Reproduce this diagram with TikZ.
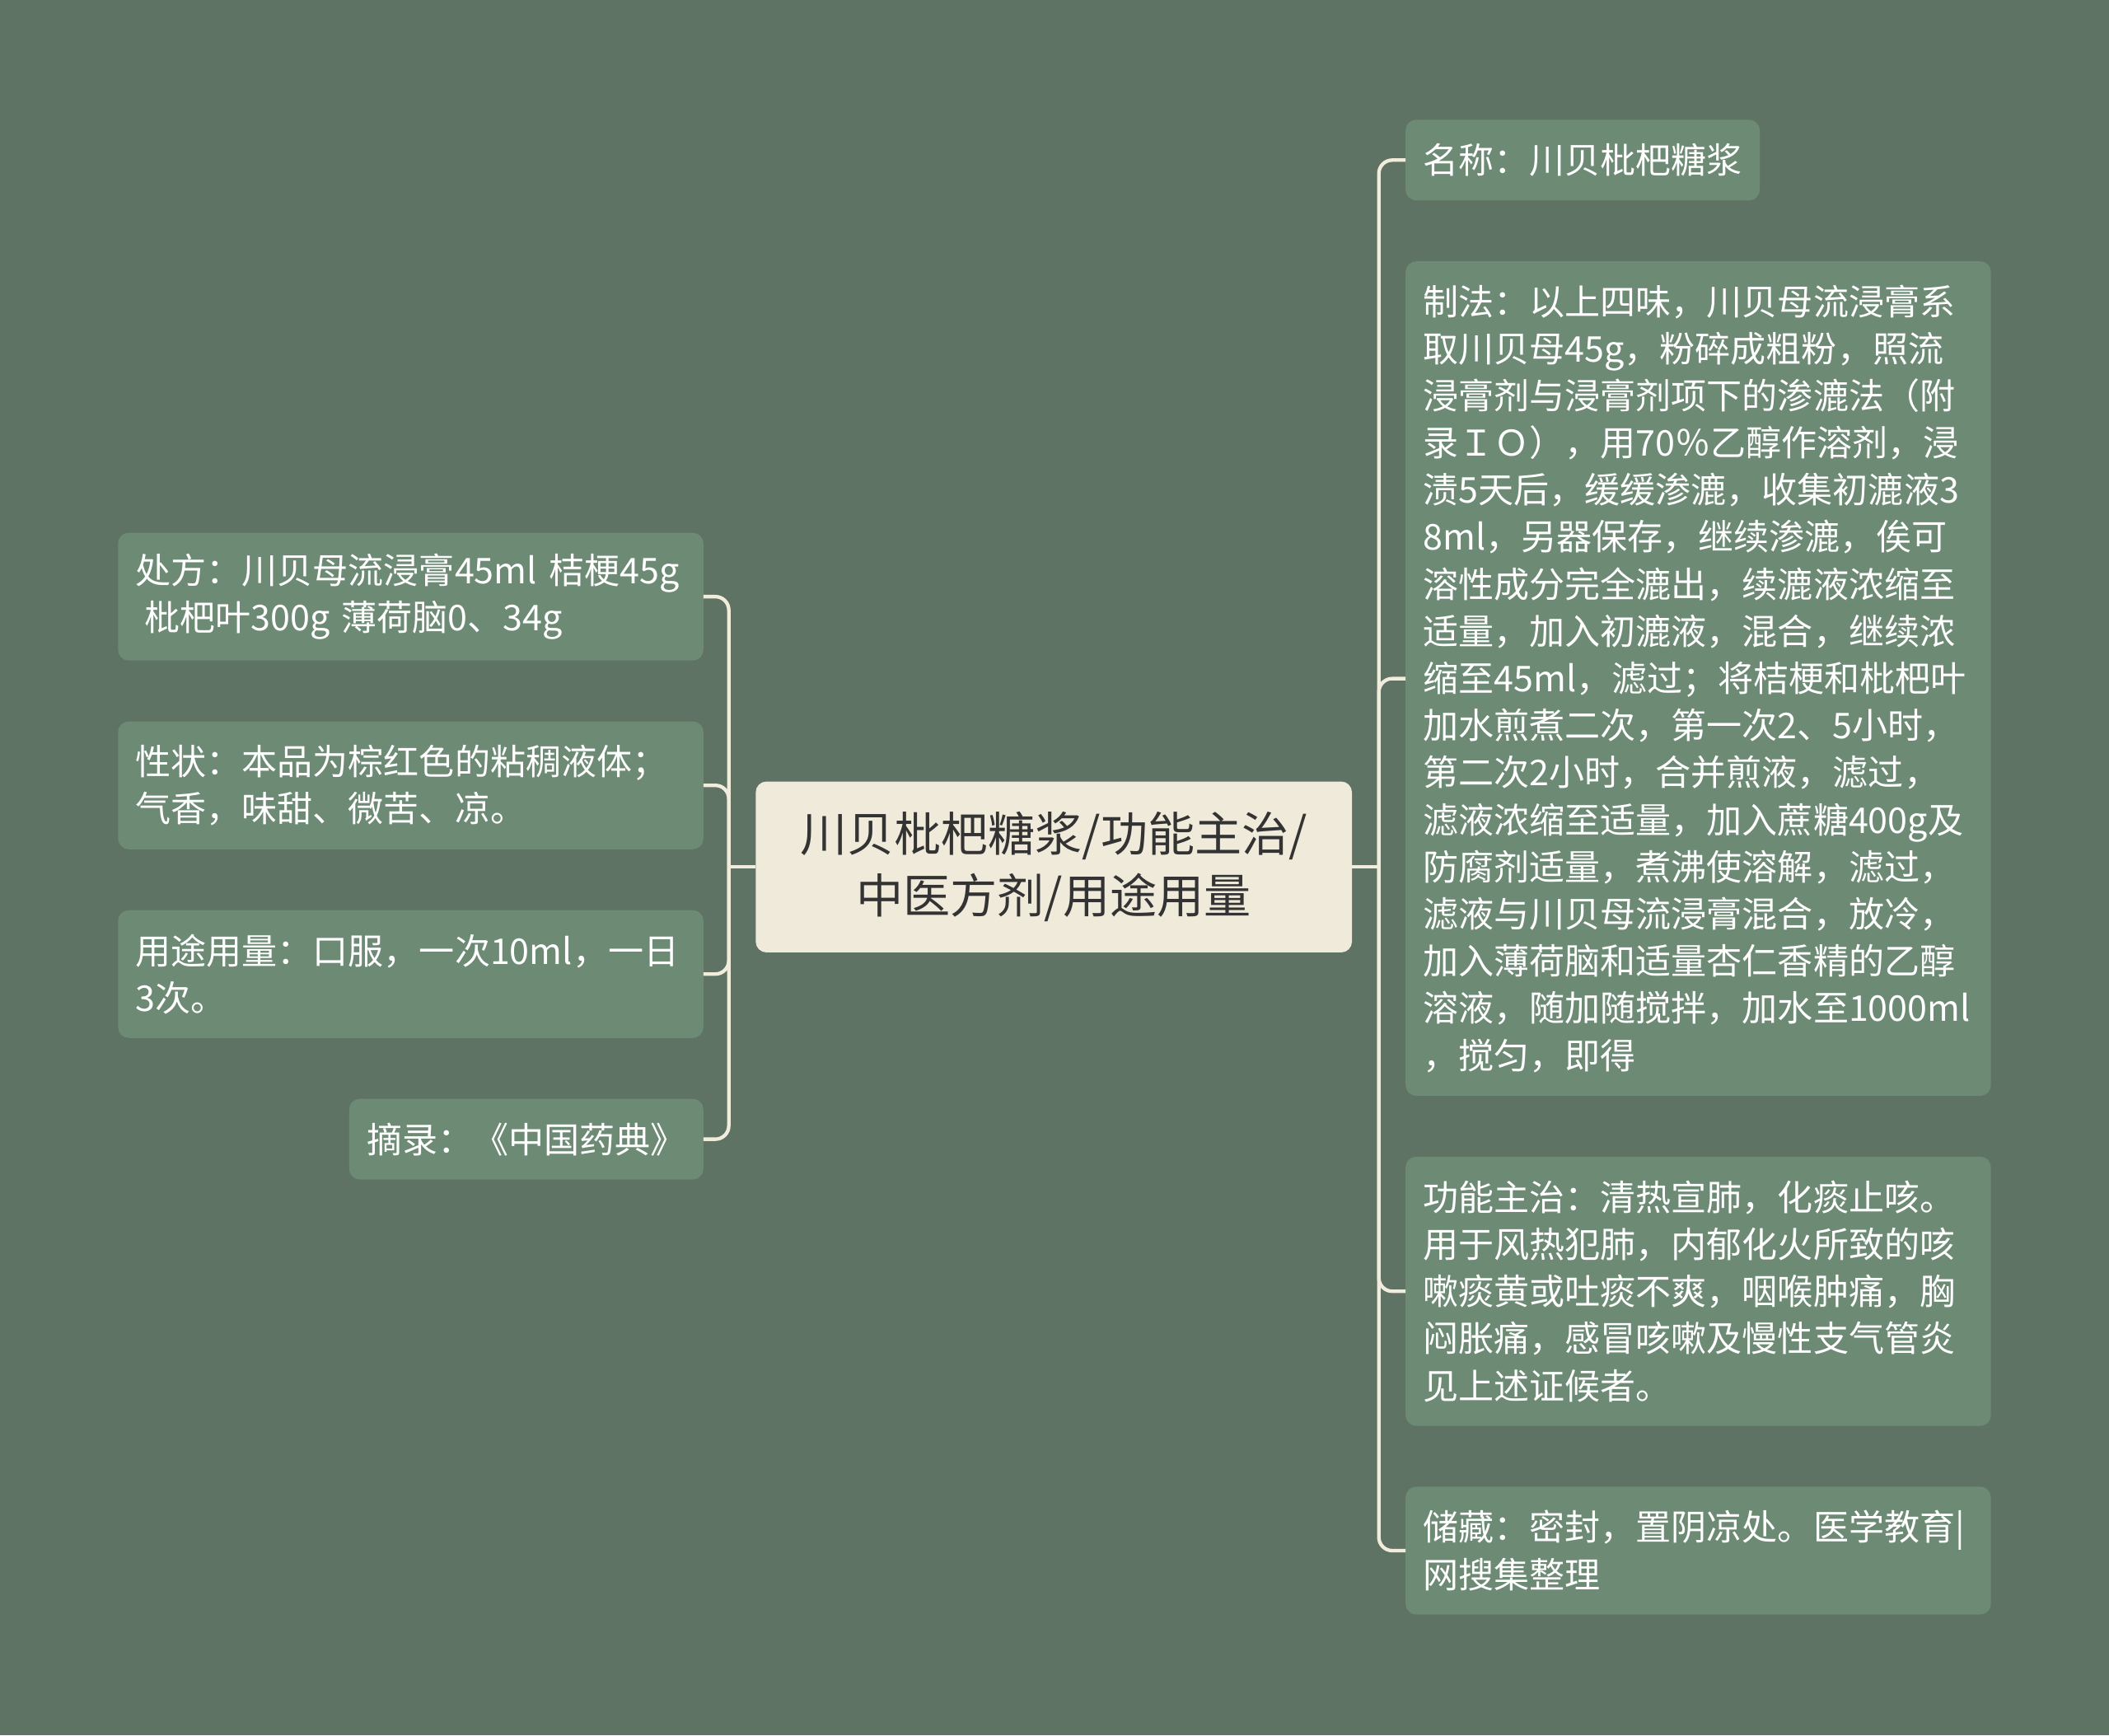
\documentclass[tikz,border=0pt]{standalone}
\usepackage{fontspec}
\setmainfont{Noto Sans CJK SC}
\usepackage{xcolor}
\usepackage{tikz}
\usetikzlibrary{positioning}
\definecolor{pagebg}{RGB}{94,115,99}
\definecolor{leafgreen}{RGB}{108,138,116}
\definecolor{hubcream}{RGB}{239,234,218}
\definecolor{linecream}{RGB}{241,236,220}
\definecolor{hubtext}{RGB}{51,51,51}
\tikzset{
    leaf box/.style={rectangle, rounded corners=0.08cm, fill=leafgreen, text=white, align=left, inner xsep=0.13cm, inner ysep=0.1cm, outer sep=0pt, font=\fontsize{7.5}{9.96}\selectfont},
    long leaf/.style={leaf box, text width=4.09cm},
    nlines/.style={minimum height={#1*0.35cm+0.25cm}},
    hub box/.style={rectangle, rounded corners=0.08cm, fill=hubcream, text=hubtext, align=center, outer sep=0pt, minimum width=4.43cm, minimum height=1.27cm, font=\fontsize{9.95}{13.1}\selectfont},
    branch line/.style={draw=linecream, line width=0.75pt, rounded corners=0.1cm}
}

\begin{document}
\begin{tikzpicture}[x=0.01cm, y=-0.01cm, node distance=0.452cm]
\fill[pagebg] (0,0) rectangle (1568,1290);
\useasboundingbox (0,0) rectangle (1568,1290);

% Central topic
\node[hub box] (hub) at (783.5,644.5) {川贝枇杷糖浆/功能主治/\\中医方剂/用途用量};

% Left branch
\node[long leaf, nlines=2, anchor=north east] (chufang) at (523,396) {处方：川贝母流浸膏45ml~桔梗45g\\\hspace*{0.25em}枇杷叶300g 薄荷脑0、34g};
\node[long leaf, nlines=2, below=of chufang.south east, anchor=north east] (xingzhuang) {性状：本品为棕红色的粘稠液体；\\气香，味甜、微苦、凉。};
\node[long leaf, nlines=2, below=of xingzhuang.south east, anchor=north east] (yongtu) {用途用量：口服，一次10ml，一日\\3次。};
\node[leaf box, nlines=1, below=of yongtu.south east, anchor=north east] (zhailu) {摘录：《中国药典》};

% Right branch
\node[leaf box, nlines=1, anchor=north west] (mingcheng) at (1045,89) {名称：川贝枇杷糖浆};
\node[long leaf, nlines=17, below=of mingcheng.south west, anchor=north west] (zhifa) {制法：以上四味，川贝母流浸膏系\\取川贝母45g，粉碎成粗粉，照流\\浸膏剂与浸膏剂项下的渗漉法（附\\录ＩＯ），用70％乙醇作溶剂，浸\\渍5天后，缓缓渗漉，收集初漉液3\\8ml，另器保存，继续渗漉，俟可\\溶性成分完全漉出，续漉液浓缩至\\适量，加入初漉液，混合，继续浓\\缩至45ml，滤过；将桔梗和枇杷叶\\加水煎煮二次，第一次2、5小时，\\第二次2小时，合并煎液，滤过，\\滤液浓缩至适量，加入蔗糖400g及\\防腐剂适量，煮沸使溶解，滤过，\\滤液与川贝母流浸膏混合，放冷，\\加入薄荷脑和适量杏仁香精的乙醇\\溶液，随加随搅拌，加水至1000ml\\，搅匀，即得};
\node[long leaf, nlines=5, below=of zhifa.south west, anchor=north west] (gongneng) {功能主治：清热宣肺，化痰止咳。\\用于风热犯肺，内郁化火所致的咳\\嗽痰黄或吐痰不爽，咽喉肿痛，胸\\闷胀痛，感冒咳嗽及慢性支气管炎\\见上述证候者。};
\node[long leaf, nlines=2, below=of gongneng.south west, anchor=north west] (chucang) {储藏：密封，置阴凉处。医学教育|\\网搜集整理};

% Connectors
\coordinate[left=0.2cm of hub.west] (lbus);
\coordinate[right=0.2cm of hub.east] (rbus);
\draw[branch line] (hub.west) -- (lbus);
\draw[branch line] (hub.east) -- (rbus);
\foreach \n in {chufang,xingzhuang,yongtu,zhailu}
  \draw[branch line] (lbus) |- (\n.east);
\foreach \n in {mingcheng,zhifa,gongneng,chucang}
  \draw[branch line] (rbus) |- (\n.west);
\end{tikzpicture}
\end{document}
